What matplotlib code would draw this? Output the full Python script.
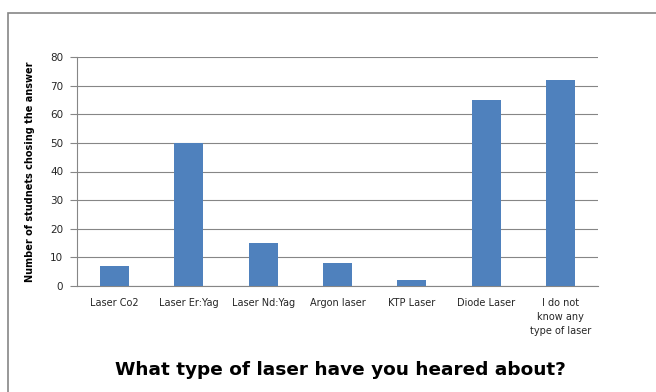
import matplotlib.pyplot as plt
import numpy as np

categories = ['Laser Co2', 'Laser Er:Yag', 'Laser Nd:Yag', 'Argon laser',
              'KTP Laser', 'Diode Laser', 'I do not\nknow any\ntype of laser']
counts = [7, 50, 15, 8, 2, 65, 72]
yticks = [0, 10, 20, 30, 40, 50, 60, 70, 80]

fig = plt.figure(figsize=(6.56, 3.92), dpi=100)

# outer frame of the chart area
fig.add_artist(plt.Rectangle((8 / 656, -0.01), 1.0, 1 - 13 / 392 + 0.01,
                             transform=fig.transFigure, fill=False,
                             edgecolor='#868686', linewidth=1.2))

ax = fig.add_axes([77 / 656, 1 - 286 / 392, (598 - 77) / 656, (286 - 57) / 392])
x = np.arange(len(categories))
ax.bar(x, counts, width=0.39, color='#4F81BD', zorder=3)

ax.set_xlim(-0.5, len(categories) - 0.5)
ax.set_ylim(0, 80)
ax.set_yticks(yticks)
ax.set_xticks(x)
ax.set_xticklabels(categories, fontsize=7, linespacing=1.5, color='#262626')
ax.tick_params(axis='y', labelsize=7.5, length=5, color='#868686', pad=5,
               labelcolor='#262626')
ax.tick_params(axis='x', length=0, pad=9)
ax.yaxis.grid(True, color='#868686', linewidth=0.8, zorder=0)

for side in ['top', 'right']:
    ax.spines[side].set_visible(False)
for side in ['left', 'bottom']:
    ax.spines[side].set_color('#868686')

ax.set_ylabel('Number of studnets chosing the answer', fontsize=7,
              fontweight='bold', labelpad=11)
fig.text(0.519, 1 - 370 / 392, 'What type of laser have you heared about?',
         fontsize=13.3, fontweight='bold', ha='center', va='center')

fig.savefig('out.png', dpi=100)
